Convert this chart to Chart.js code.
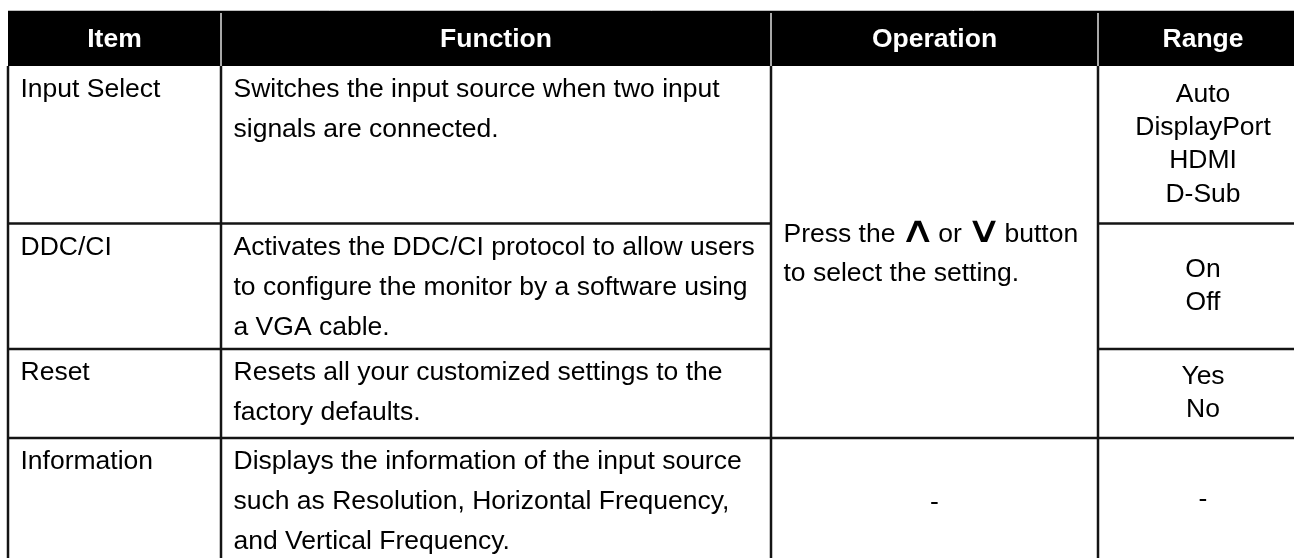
<!DOCTYPE html>
<html>
<head>
<meta charset="utf-8">
<script src="https://cdn.jsdelivr.net/npm/chart.js@4.4.0/dist/chart.umd.min.js"></script>
<style>
  html, body { margin: 0; padding: 0; background: #fff; }
  #wrap { width: 1294px; height: 558px; }
</style>
</head>
<body>
<div id="wrap"><canvas id="settings-table" width="1294" height="558"></canvas></div>
<script>
const columns = ["Item", "Function", "Operation", "Range"];
const items = ["Input Select", "DDC/CI", "Reset", "Information"];
const functions = [
  ["Switches the input source when two input", "signals are connected."],
  ["Activates the DDC/CI protocol to allow users", "to configure the monitor by a software using", "a VGA cable."],
  ["Resets all your customized settings to the", "factory defaults."],
  ["Displays the information of the input source", "such as Resolution, Horizontal Frequency,", "and Vertical Frequency."],
];
// one operation cell is merged over the first three rows
const operationShared = ["Press the \u2227 or \u2228 button", "to select the setting."];
const operationLast = ["-"];
const ranges = [["Auto", "DisplayPort", "HDMI", "D-Sub"], ["On", "Off"], ["Yes", "No"], ["-"]];

// grid edges, in axis units
const colEdges = [8, 221, 771, 1098, 1308];
const rowEdges = [11, 66, 223.5, 349, 438, 562];

const FONT = "'Liberation Sans', Arial, sans-serif";
const BODY_FONT = "26.5px " + FONT;
const HEAD_FONT = "bold 26.5px " + FONT;
const ARROW_FONT = "40px 'DejaVu Sans', sans-serif";

const tablePlugin = {
  id: "tablePlugin",
  beforeDraw(chart) {
    const { ctx, scales: { x, y } } = chart;
    const px = v => x.getPixelForValue(v);
    const py = v => y.getPixelForValue(v);

    ctx.save();
    ctx.fillStyle = "#fff";
    ctx.fillRect(0, 0, chart.width, chart.height);

    // header band
    ctx.fillStyle = "#000";
    ctx.fillRect(px(colEdges[0]), py(rowEdges[0]), px(colEdges[4]) - px(colEdges[0]), py(rowEdges[1]) - py(rowEdges[0]));
    ctx.strokeStyle = "#bdbdbd";
    ctx.lineWidth = 1;
    ctx.beginPath();
    ctx.moveTo(px(colEdges[0]), py(rowEdges[0]) - 0.5);
    ctx.lineTo(px(colEdges[4]), py(rowEdges[0]) - 0.5);
    ctx.stroke();

    ctx.strokeStyle = "#e0e0e0";
    ctx.lineWidth = 1.5;
    for (let c = 1; c < 4; c++) {
      ctx.beginPath();
      ctx.moveTo(px(colEdges[c]), py(rowEdges[0]) + 2);
      ctx.lineTo(px(colEdges[c]), py(rowEdges[1]));
      ctx.stroke();
    }

    ctx.fillStyle = "#fff";
    ctx.font = HEAD_FONT;
    ctx.textAlign = "center";
    ctx.textBaseline = "alphabetic";
    columns.forEach((name, c) => {
      const cx = (px(colEdges[c]) + px(colEdges[c + 1])) / 2;
      ctx.fillText(name, cx, (py(rowEdges[0]) + py(rowEdges[1])) / 2 + 8.5);
    });

    // body grid
    ctx.strokeStyle = "#141414";
    ctx.lineWidth = 2.5;
    const seg = (x0, y0, x1, y1) => {
      ctx.beginPath();
      ctx.moveTo(px(x0), py(y0));
      ctx.lineTo(px(x1), py(y1));
      ctx.stroke();
    };
    for (let c = 0; c < 5; c++) seg(colEdges[c], rowEdges[1], colEdges[c], rowEdges[5]);
    for (let r = 2; r < 5; r++) {
      if (r < 4) {
        seg(colEdges[0], rowEdges[r], colEdges[2], rowEdges[r]);
        seg(colEdges[3], rowEdges[r], colEdges[4], rowEdges[r]);
      } else {
        seg(colEdges[0], rowEdges[r], colEdges[4], rowEdges[r]);
      }
    }

    // cell text
    ctx.fillStyle = "#000";
    ctx.font = BODY_FONT;
    const padX = 12.5, firstBase = 31, lineH = 40;
    const leftCell = (lines, c, r) => {
      ctx.textAlign = "left";
      lines.forEach((t, i) => ctx.fillText(t, px(colEdges[c]) + padX, py(rowEdges[r]) + firstBase + i * lineH));
    };
    const centerCell = (lines, c, r0, r1, lh, shift) => {
      ctx.textAlign = "center";
      const cx = (px(colEdges[c]) + px(colEdges[c + 1])) / 2;
      const cy = (py(rowEdges[r0]) + py(rowEdges[r1])) / 2 + shift;
      lines.forEach((t, i) => ctx.fillText(t, cx, cy - (lines.length - 1) * lh / 2 + i * lh + 9.5));
    };

    items.forEach((t, i) => leftCell([t], 0, i + 1));
    functions.forEach((lines, i) => leftCell(lines, 1, i + 1));
    ranges.forEach((lines, i) => centerCell(lines, 3, i + 1, i + 2, 33.3, -2.5));
    centerCell(operationLast, 2, 4, 5, 40, 0);

    // merged operation cell; the arrow glyphs are fitted to a fixed ink box
    const opTop = py(rowEdges[1]), opBot = py(rowEdges[4]);
    const opMid = (opTop + opBot) / 2;
    const arrowW = 25, arrowH = 22;
    ctx.textAlign = "left";
    operationShared.forEach((line, i) => {
      let cx = px(colEdges[2]) + padX;
      const base = opMid - (operationShared.length - 1) * 39 / 2 + i * 39 + 9.5;
      line.split(/([\u2227\u2228])/).forEach(part => {
        if (!part) return;
        if (/[\u2227\u2228]/.test(part)) {
          ctx.font = ARROW_FONT;
          const m = ctx.measureText(part);
          const w = m.actualBoundingBoxLeft + m.actualBoundingBoxRight;
          const h = m.actualBoundingBoxAscent + m.actualBoundingBoxDescent;
          ctx.save();
          ctx.translate(cx + 3, base);
          ctx.scale(arrowW / w, arrowH / h);
          ctx.fillText(part, m.actualBoundingBoxLeft, -m.actualBoundingBoxDescent);
          ctx.restore();
          cx += 3 + arrowW;
        } else {
          ctx.font = BODY_FONT;
          ctx.fillText(part, cx, base);
          cx += ctx.measureText(part).width;
        }
      });
    });
    ctx.restore();
  }
};

new Chart(document.getElementById("settings-table"), {
  type: "scatter",
  data: { datasets: [{ data: [] }] },
  options: {
    responsive: false,
    devicePixelRatio: 1,
    animation: false,
    layout: { padding: 0 },
    plugins: { legend: { display: false }, tooltip: { enabled: false } },
    scales: {
      x: { type: "linear", min: 0, max: 1294, display: false },
      y: { type: "linear", min: 0, max: 558, reverse: true, display: false }
    }
  },
  plugins: [tablePlugin]
});
</script>
</body>
</html>
